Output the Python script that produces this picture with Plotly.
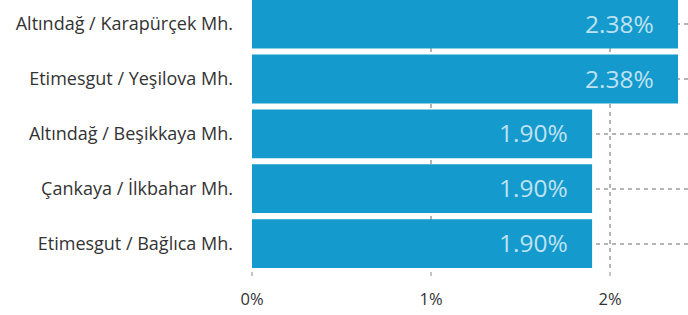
import plotly.graph_objects as go

categories = ["Altındağ / Karapürçek Mh.", "Etimesgut / Yeşilova Mh.", "Altındağ / Beşikkaya Mh.",
              "Çankaya / İlkbahar Mh.", "Etimesgut / Bağlıca Mh."]
values = [2.38, 2.38, 1.90, 1.90, 1.90]
tick_vals = [0, 1, 2]
tick_text = ["0%", "1%", "2%"]

fig = go.Figure()
fig.add_trace(go.Bar(
    x=values, y=categories, orientation="h",
    marker=dict(color="#149ACD", line=dict(width=0)),
    hoverinfo="skip",
))
for c, v in zip(categories, values):
    fig.add_annotation(x=v, y=c, xref="x", yref="y", text=f"{v:.2f}%", showarrow=False,
                       xanchor="right", xshift=-22, yshift=1,
                       font=dict(family="Open Sans", size=24.5, color="#BEE2F1"))

fig.update_layout(
    width=688, height=315,
    margin=dict(l=252, r=0, t=0, b=44),
    paper_bgcolor="white", plot_bgcolor="white",
    bargap=0.11,
    showlegend=False,
    font=dict(family="Open Sans", size=18, color="#333333"),
    xaxis=dict(range=[0, 436/179], tickvals=tick_vals, ticktext=tick_text,
               showgrid=True, gridcolor="#B4B4B4", griddash="4px,4px", gridwidth=2,
               zeroline=False, ticks="outside", ticklen=4, tickwidth=2, tickcolor="#C4C4C4",
               ticklabelstandoff=9,
               tickfont=dict(size=16.5, color="#333333"), fixedrange=True),
    yaxis=dict(categoryorder="array", categoryarray=categories,
               range=[4.5, -0.44],
               showgrid=True, gridcolor="#B4B4B4", griddash="4px,4px", gridwidth=2,
               ticks="", ticklabelstandoff=18, tickfont=dict(size=18, color="#333333"),
               fixedrange=True),
)
fig.write_html("out.html", config={"displayModeBar": False},
               post_script="document.body.style.margin='0';")
